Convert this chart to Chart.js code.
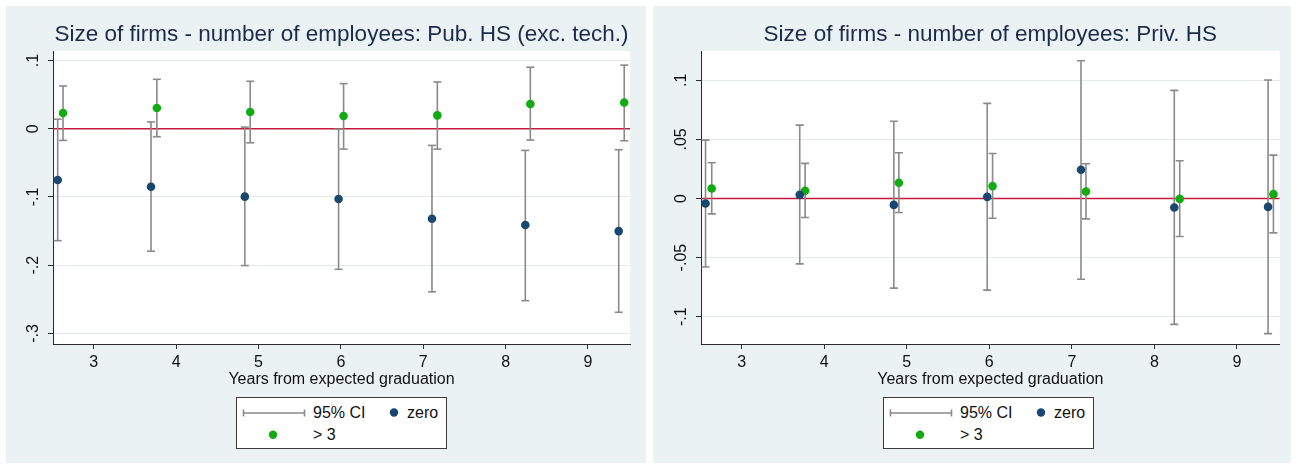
<!DOCTYPE html>
<html>
<head>
<meta charset="utf-8">
<script src="https://cdn.jsdelivr.net/npm/chart.js@4.4.0/dist/chart.umd.min.js"></script>
<style>
  body { margin: 0; width: 1297px; height: 468px; background: #fff; position: relative; overflow: hidden;
         font-family: "Liberation Sans", Arial, sans-serif; }
  .panel { position: absolute; top: 6px; height: 457px; background: #eaf2f3; }
  .panel canvas { position: absolute; left: 0; top: 0; }
  .legend { position: absolute; left: 230px; top: 391px; width: 211px; height: 52px; box-sizing: border-box;
            background: #fff; border: 1px solid #3c3c3c; font-size: 16px; color: #111; }
  .legend .item { position: absolute; line-height: 18px; white-space: nowrap; }
  .legend svg { position: absolute; }
</style>
</head>
<body>
<div class="panel" id="leftPanel" style="left:6px;width:640px;">
  <canvas id="pubChart" width="640" height="457"></canvas>
</div>
<div class="panel" id="rightPanel" style="left:653px;width:638px;">
  <canvas id="privChart" width="638" height="457"></canvas>
</div>
<script>
// shared axis
const xTicks = [3, 4, 5, 6, 7, 8, 9];
const xTickLabels = ['3', '4', '5', '6', '7', '8', '9'];
const xTitle = 'Years from expected graduation';
const seriesNames = ['95% CI', 'zero', '> 3'];

// Pub. HS (exc. tech.)
const pubTitle = 'Size of firms - number of employees: Pub. HS (exc. tech.)';
const pubXRange = [2.505, 9.51];
const pubYRange = [-0.3155, 0.114];
const pubYTicks = [0.1, 0, -0.1, -0.2, -0.3];
const pubYTickLabels = ['.1', '0', '-.1', '-.2', '-.3'];
const pubZeroX = [2.562, 3.695, 4.834, 5.972, 7.106, 8.239, 9.373];
const pubZeroEst = [-0.075, -0.085, -0.0995, -0.103, -0.132, -0.141, -0.150];
const pubZeroLo = [-0.164, -0.1795, -0.2005, -0.206, -0.239, -0.252, -0.269];
const pubZeroHi = [0.014, 0.010, 0.0024, -0.0005, -0.0244, -0.0317, -0.0307];
const pubBigX = [2.627, 3.766, 4.899, 6.033, 7.171, 8.30, 9.44];
const pubBigEst = [0.023, 0.0304, 0.0245, 0.0186, 0.0196, 0.0363, 0.0385];
const pubBigLo = [-0.0171, -0.0117, -0.0205, -0.0298, -0.0298, -0.0166, -0.0176];
const pubBigHi = [0.0627, 0.0725, 0.0696, 0.0662, 0.0686, 0.0902, 0.0933];

// Priv. HS
const privTitle = 'Size of firms - number of employees: Priv. HS';
const privXRange = [2.508, 9.518];
const privYRange = [-0.1231, 0.1248];
const privYTicks = [0.1, 0.05, 0, -0.05, -0.1];
const privYTickLabels = ['.1', '.05', '0', '-.05', '-.1'];
const privZeroX = [2.563, 3.704, 4.844, 5.975, 7.111, 8.241, 9.377];
const privZeroEst = [-0.0042, 0.0031, -0.0054, 0.0014, 0.0243, -0.0076, -0.0071];
const privZeroLo = [-0.0579, -0.0553, -0.0758, -0.0775, -0.0683, -0.1065, -0.1143];
const privZeroHi = [0.0494, 0.0621, 0.0653, 0.0805, 0.1166, 0.0915, 0.1003];
const privBigX = [2.638, 3.769, 4.905, 6.040, 7.171, 8.307, 9.442];
const privBigEst = [0.0085, 0.0065, 0.0133, 0.0105, 0.0059, -0.0003, 0.0037];
const privBigLo = [-0.0130, -0.0161, -0.0119, -0.0167, -0.0172, -0.0322, -0.0291];
const privBigHi = [0.0302, 0.0297, 0.0387, 0.0381, 0.0294, 0.0319, 0.0367];

const navy = '#1a476f';
const green = '#12ab12';
const ciGray = '#8a8a8a';
const refRed = '#c8173f';
const axisColor = '#2a2a2a';
const gridColor = '#e3ebec';
const titleColor = '#1c2b4b';

Chart.defaults.font.family = '"Liberation Sans", Arial, sans-serif';

function estPoints(xs, ys) {
    return xs.map((x, i) => ({ x: x, y: ys[i] }));
}

// each interval is lo -> hi, then a gap
function ciPoints(xs, lo, hi) {
    const pts = [];
    xs.forEach((x, i) => {
        pts.push({ x: x, y: lo[i] }, { x: x, y: hi[i] }, { x: x, y: null });
    });
    return pts;
}

function labelFor(values, labels, v) {
    const i = values.findIndex(t => Math.abs(t - v) < 1e-9);
    return i < 0 ? '' : labels[i];
}

// white plot region like Stata's plotregion
const plotBg = {
    id: 'plotBg',
    beforeDraw(chart) {
        const a = chart.chartArea;
        chart.ctx.save();
        chart.ctx.fillStyle = '#fff';
        chart.ctx.fillRect(a.left, a.top, a.right - a.left, a.bottom - a.top);
        chart.ctx.restore();
    }
};

function ciDataset(data) {
    return {
        data: data, showLine: true, spanGaps: false,
        borderColor: ciGray, borderWidth: 1.6,
        pointStyle: 'line', pointRadius: 4, pointBorderColor: ciGray, pointBorderWidth: 1.6,
        order: 1
    };
}

function dotDataset(data, color) {
    return {
        data: data, pointRadius: 4.3, pointBackgroundColor: color,
        pointBorderColor: color, pointBorderWidth: 0, order: 0
    };
}

function drawPanel(id, p) {
    new Chart(document.getElementById(id), {
        type: 'scatter',
        data: {
            datasets: [
                dotDataset(estPoints(p.zeroX, p.zeroEst), navy),
                dotDataset(estPoints(p.bigX, p.bigEst), green),
                ciDataset(ciPoints(p.zeroX, p.zeroLo, p.zeroHi)),
                ciDataset(ciPoints(p.bigX, p.bigLo, p.bigHi)),
                {
                    data: [{ x: p.xRange[0], y: 0 }, { x: p.xRange[1], y: 0 }],
                    showLine: true, borderColor: refRed, borderWidth: 1.6, pointRadius: 0, order: 2
                }
            ]
        },
        options: {
            responsive: false,
            animation: false,
            events: [],
            layout: { padding: { left: 0, right: p.padRight, top: 0, bottom: 74 } },
            plugins: {
                legend: { display: false },
                tooltip: { enabled: false },
                title: {
                    display: true, text: p.title, fullSize: false, color: titleColor,
                    font: { size: 22.5, weight: 'normal' },
                    padding: { top: 15.5, bottom: 2.5 }
                }
            },
            scales: {
                x: {
                    type: 'linear', min: p.xRange[0], max: p.xRange[1],
                    afterBuildTicks: s => { s.ticks = xTicks.map(v => ({ value: v })); },
                    afterFit: s => { s.height = 45; },
                    ticks: {
                        autoSkip: false, maxRotation: 0, padding: 4, color: '#111',
                        font: { size: 16 },
                        callback: v => labelFor(xTicks, xTickLabels, v)
                    },
                    grid: { drawOnChartArea: false, tickLength: 5, tickColor: axisColor },
                    border: { color: axisColor, width: 1 },
                    title: {
                        display: true, text: xTitle, color: '#111', font: { size: 16 },
                        padding: { top: 0, bottom: 0 }
                    }
                },
                y: {
                    type: 'linear', min: p.yRange[0], max: p.yRange[1],
                    afterBuildTicks: s => { s.ticks = p.yTicks.map(v => ({ value: v })); },
                    afterFit: s => { s.width = p.axisWidth; },
                    ticks: {
                        autoSkip: false, minRotation: 90, maxRotation: 90, crossAlign: 'center',
                        padding: p.tickPad, color: '#111', font: { size: 16 },
                        callback: v => labelFor(p.yTicks, p.yTickLabels, v)
                    },
                    grid: { color: gridColor, lineWidth: 1, tickLength: 5, tickColor: axisColor },
                    border: { color: axisColor, width: 1 }
                }
            }
        },
        plugins: [plotBg]
    });
}

function buildLegend(panelId) {
    const box = document.createElement('div');
    box.className = 'legend';
    box.innerHTML =
        '<svg style="left:5px;top:10px" width="64" height="10">' +
        '<line x1="1.5" y1="5" x2="62.5" y2="5" stroke="' + ciGray + '" stroke-width="1.6"/>' +
        '<line x1="1.5" y1="1.5" x2="1.5" y2="8.5" stroke="' + ciGray + '" stroke-width="1.6"/>' +
        '<line x1="62.5" y1="1.5" x2="62.5" y2="8.5" stroke="' + ciGray + '" stroke-width="1.6"/></svg>' +
        '<span class="item" style="left:76px;top:6px">' + seriesNames[0] + '</span>' +
        '<svg style="left:152px;top:10px" width="10" height="10"><circle cx="5" cy="4.5" r="4.2" fill="' + navy + '"/></svg>' +
        '<span class="item" style="left:170px;top:6px">' + seriesNames[1] + '</span>' +
        '<svg style="left:31px;top:32px" width="10" height="10"><circle cx="5" cy="4.8" r="4.2" fill="' + green + '"/></svg>' +
        '<span class="item" style="left:76px;top:28px">' + seriesNames[2] + '</span>';
    document.getElementById(panelId).appendChild(box);
}

drawPanel('pubChart', {
    title: pubTitle, xRange: pubXRange, yRange: pubYRange,
    yTicks: pubYTicks, yTickLabels: pubYTickLabels,
    zeroX: pubZeroX, zeroEst: pubZeroEst, zeroLo: pubZeroLo, zeroHi: pubZeroHi,
    bigX: pubBigX, bigEst: pubBigEst, bigLo: pubBigLo, bigHi: pubBigHi,
    axisWidth: 47, tickPad: 5, padRight: 16
});
drawPanel('privChart', {
    title: privTitle, xRange: privXRange, yRange: privYRange,
    yTicks: privYTicks, yTickLabels: privYTickLabels,
    zeroX: privZeroX, zeroEst: privZeroEst, zeroLo: privZeroLo, zeroHi: privZeroHi,
    bigX: privBigX, bigEst: privBigEst, bigLo: privBigLo, bigHi: privBigHi,
    axisWidth: 48, tickPad: 1, padRight: 11.3
});
buildLegend('leftPanel');
buildLegend('rightPanel');
</script>
</body>
</html>
